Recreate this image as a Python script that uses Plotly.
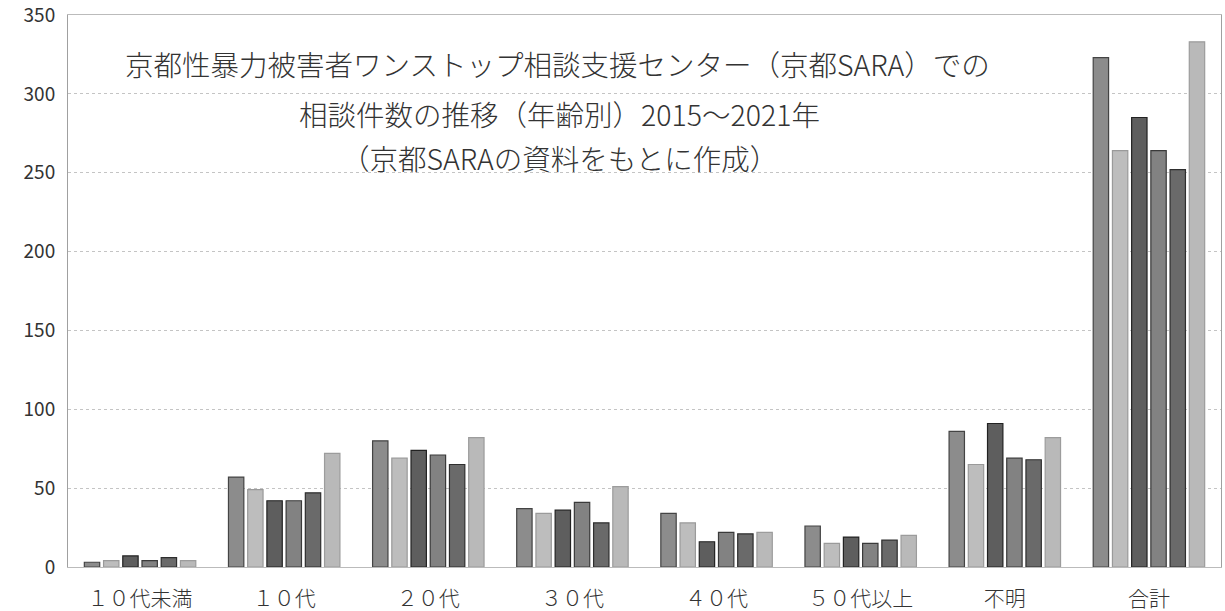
import plotly.graph_objects as go

categories = ["１０代未満", "１０代", "２０代", "３０代", "４０代", "５０代以上", "不明", "合計"]
years = ["2015", "2016", "2017", "2018", "2019", "2020"]
v2015 = [3, 57, 80, 37, 34, 26, 86, 323]
v2016 = [4, 49, 69, 34, 28, 15, 65, 264]
v2017 = [7, 42, 74, 36, 16, 19, 91, 285]
v2018 = [4, 42, 71, 41, 22, 15, 69, 264]
v2019 = [6, 47, 65, 28, 21, 17, 68, 252]
v2020 = [4, 72, 82, 51, 22, 20, 82, 333]
series = [v2015, v2016, v2017, v2018, v2019, v2020]
fills = ["#8c8c8c", "#bdbdbd", "#5e5e5e", "#828282", "#6a6a6a", "#b9b9b9"]
borders = ["#444444", "#9a9a9a", "#222222", "#3a3a3a", "#2e2e2e", "#9c9c9c"]
title_lines = [
    "京都性暴力被害者ワンストップ相談支援センター（京都SARA）での",
    "相談件数の推移（年齢別）2015～2021年",
    "（京都SARAの資料をもとに作成）",
]

fig = go.Figure()
for y, vals, fc, bc in zip(years, series, fills, borders):
    fig.add_trace(go.Bar(
        x=categories, y=vals, name=y,
        marker=dict(color=fc, line=dict(color=bc, width=1.2)),
    ))

font_family = "Noto Sans CJK JP, Noto Sans, sans-serif"
light_family = "Noto Sans CJK JP Light, Noto Sans CJK JP, sans-serif"
fig.update_layout(
    width=1225, height=611,
    margin=dict(l=68, r=4, t=15, b=44),
    paper_bgcolor="white", plot_bgcolor="white",
    barmode="group", bargap=0.2, bargroupgap=0.2,
    showlegend=False,
    font=dict(family=font_family, color="#333333"),
    xaxis=dict(
        showgrid=False, showline=True, linecolor="#bbbbbb", linewidth=1,
        mirror=True, ticks="",
        tickfont=dict(size=21, color="#333333", family=light_family, weight=300),
        ticklabelstandoff=13, automargin=False, ticklabeloverflow="allow",
    ),
    yaxis=dict(
        range=[0, 350], dtick=50, showgrid=True, gridcolor="#c4c4c4", gridwidth=1,
        griddash="dot", showline=True, linecolor="#a0a0a0", linewidth=1, mirror=True,
        ticks="", tickfont=dict(size=19, color="#333333"), ticklabelstandoff=8,
        zeroline=False, automargin=False, ticklabeloverflow="allow",
    ),
)

ys = [0.913, 0.822, 0.741]
xs = [0.4245, 0.4267, 0.4267]
for txt, xx, yy in zip(title_lines, xs, ys):
    fig.add_annotation(
        text=txt, xref="paper", yref="paper", x=xx, y=yy,
        showarrow=False,
        font=dict(size=28.5, color="#333333", family=light_family, weight=300),
        xanchor="center", yanchor="middle",
    )

fig.write_html(
    "out.html",
    config={"displayModeBar": False},
    post_script="document.body.style.margin='0';",
)
